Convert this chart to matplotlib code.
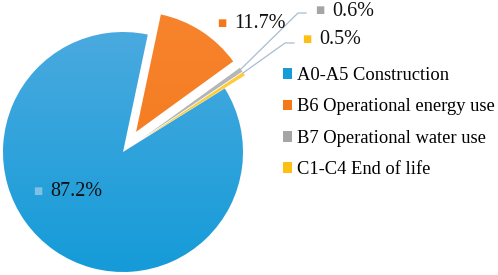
import numpy as np
import matplotlib
matplotlib.use("Agg")
import matplotlib.pyplot as plt
from matplotlib.patches import Patch

labels = ["A0-A5 Construction", "B6 Operational energy use",
          "B7 Operational water use", "C1-C4 End of life"]
values = [87.2, 11.7, 0.6, 0.5]
colors = ["#149bd8", "#f47718", "#a5a5a5", "#fdbf11"]
light = ["#52ace0", "#f7842e", "#bdbdbd", "#ffd24d"]

plt.rcParams["font.family"] = ["Liberation Serif", "DejaVu Serif"]

fig = plt.figure(figsize=(4.98, 2.75), dpi=100)
ax = fig.add_axes([0, 0, 1, 1])

R = 120
wedges, _ = ax.pie(values, colors=colors, startangle=32, counterclock=False,
                   explode=[0, 0.2 * R, 0.2 * R, 0.2 * R], center=(123, 123),
                   radius=R, wedgeprops=dict(linewidth=0))

# soft vertical gradient like the original office chart
for w, c0, c1 in zip(wedges, light, colors):
    grad = np.linspace(0, 1, 256).reshape(-1, 1)
    cmap = matplotlib.colors.LinearSegmentedColormap.from_list("g", [c1, c0])
    im = ax.imshow(grad, cmap=cmap, extent=[0, 280, 0, 280], origin="lower",
                   aspect="auto", zorder=w.get_zorder())
    im.set_clip_path(w)
    w.set_facecolor("none")

ax.set_xlim(0, 498)
ax.set_ylim(0, 275)
ax.set_aspect("equal")
ax.set_axis_off()

# leader lines for the tiny slices
lc = "#a9bccf"
ax.plot([241, 298, 306], [206, 262, 262], color=lc, lw=0.9)
ax.plot([243, 285, 294], [202, 232, 232], color=lc, lw=0.9)

# data labels with small colour keys
lab_pos = [(50, 83), (234, 251), (332, 264), (319, 235)]
key_col = ["#7fc0e6", colors[1], colors[2], colors[3]]
for (x, y), v, kc in zip(lab_pos, values, key_col):
    ax.text(x - 17, y + 1, "■", color=kc, fontsize=7, va="center",
            family="DejaVu Sans")
    ax.text(x, y, f"{v}%", fontsize=14.5, va="center", color="#111111")

handles = [Patch(facecolor=c, edgecolor="none") for c in colors]
ax.legend(handles, labels, loc="upper left", bbox_to_anchor=(0.55, 0.79),
          frameon=False, fontsize=13.3, handlelength=0.5, handleheight=0.5,
          handletextpad=0.25, labelspacing=0.78, borderpad=0)

fig.savefig("out.png", dpi=100)
